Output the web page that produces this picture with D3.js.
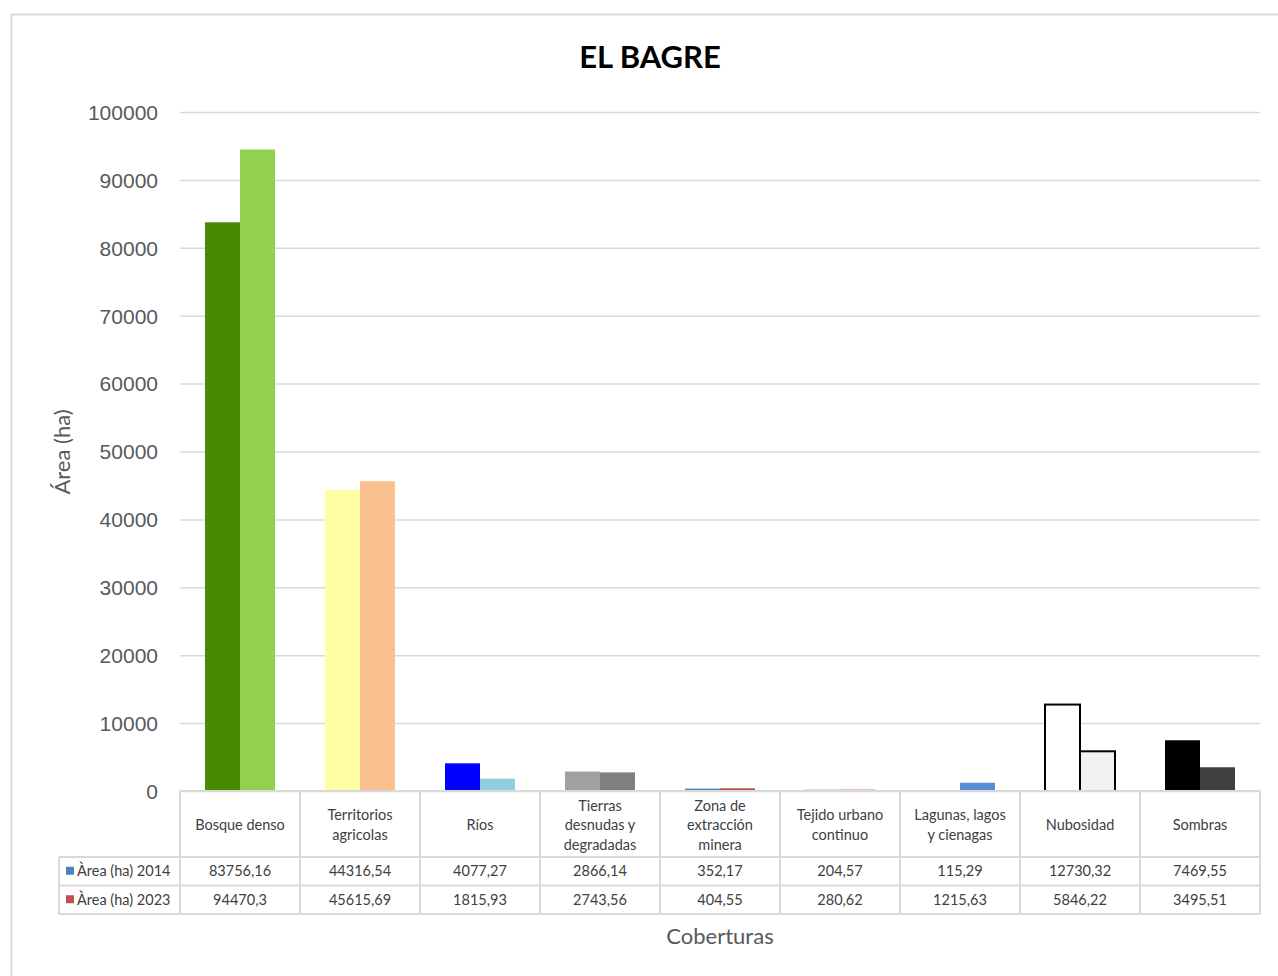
<!DOCTYPE html>
<html>
<head>
<meta charset="utf-8">
<script src="https://cdn.jsdelivr.net/npm/d3@7"></script>
<style>
  body { margin: 0; background: #fff; }
  svg { font-family: Lato, "Open Sans", sans-serif; }
  .y.axis .domain { display: none; }
  .y.axis line { stroke: #d9d9d9; stroke-width: 1.5; }
  .y.axis text { fill: #595959; font-size: 21px; }
</style>
</head>
<body>
<script>
// El Bagre - cover areas 2014 vs 2023

var categories = ["Bosque denso", "Territorios agricolas", "Ríos", "Tierras desnudas y degradadas",
    "Zona de extracción minera", "Tejido urbano continuo", "Lagunas, lagos y cienagas", "Nubosidad", "Sombras"];
var categoryLines = [["Bosque denso"], ["Territorios", "agricolas"], ["Ríos"], ["Tierras", "desnudas y", "degradadas"],
    ["Zona de", "extracción", "minera"], ["Tejido urbano", "continuo"], ["Lagunas, lagos", "y cienagas"], ["Nubosidad"], ["Sombras"]];
var area2014 = [83756.16, 44316.54, 4077.27, 2866.14, 352.17, 204.57, 115.29, 12730.32, 7469.55];
var area2023 = [94470.3, 45615.69, 1815.93, 2743.56, 404.55, 280.62, 1215.63, 5846.22, 3495.51];
var seriesNames = ["Àrea (ha) 2014", "Àrea (ha) 2023"];
var seriesColors = ["#4f81bd", "#c0504d"];
var colors2014 = ["#478c00", "#ffffa3", "#0000ff", "#a0a0a0", "#4f81bd", "#95b3d7", "#4f81bd", "#ffffff", "#000000"];
var colors2023 = ["#92d050", "#fac090", "#92cddc", "#808080", "#c0504d", "#e6b9b8", "#558ed5", "#f2f2f2", "#404040"];
var yTicks = [0, 10000, 20000, 30000, 40000, 50000, 60000, 70000, 80000, 90000, 100000];

var W = 1278, H = 976;
var plotLeft = 180, plotRight = 1260, plotTop = 112, base = 791;
var rowHead = 66, rowH = 28.5, legendLeft = 59;
var barW = 35;

var svg = d3.select("body").append("svg")
    .attr("width", W)
    .attr("height", H);

// chart frame
svg.append("rect")
    .attr("x", 11.5).attr("y", 14.5)
    .attr("width", W + 10).attr("height", H + 10)
    .attr("fill", "none")
    .attr("stroke", "#d9d9d9")
    .attr("stroke-width", 2);

var x = d3.scaleBand().domain(categories).range([plotLeft, plotRight]);
var y = d3.scaleLinear().domain([0, 100000]).range([base, plotTop]);

// y axis + gridlines
var yAxis = d3.axisLeft(y).tickValues(yTicks).tickSize(-(plotRight - plotLeft)).tickPadding(22)
    .tickFormat(d3.format("d"));
svg.append("g")
    .attr("class", "y axis")
    .attr("transform", "translate(" + plotLeft + ",0)")
    .call(yAxis)
    .selectAll("text").attr("dy", "0.35em");

// bars
var rows = categories.map(function(c, i) {
    return {cat: c, v1: area2014[i], v2: area2023[i], c1: colors2014[i], c2: colors2023[i]};
});
var bars = svg.append("g");
function outlined(c) { return c === "#ffffff" || c === "#f2f2f2"; }
bars.selectAll(".b2014")
    .data(rows)
    .enter().append("rect")
    .attr("class", "b2014")
    .attr("x", function(d) { return x(d.cat) + x.bandwidth() / 2 - barW; })
    .attr("y", function(d) { return y(d.v1); })
    .attr("width", barW)
    .attr("height", function(d) { return base - y(d.v1); })
    .attr("fill", function(d) { return d.c1; })
    .attr("stroke", function(d) { return outlined(d.c1) ? "#000" : "none"; })
    .attr("stroke-width", 2);
bars.selectAll(".b2023")
    .data(rows)
    .enter().append("rect")
    .attr("class", "b2023")
    .attr("x", function(d) { return x(d.cat) + x.bandwidth() / 2; })
    .attr("y", function(d) { return y(d.v2); })
    .attr("width", barW)
    .attr("height", function(d) { return base - y(d.v2); })
    .attr("fill", function(d) { return d.c2; })
    .attr("stroke", function(d) { return outlined(d.c2) ? "#000" : "none"; })
    .attr("stroke-width", 2);

// data table
var table = svg.append("g");
var tableBottom = base + rowHead + 2 * rowH;
var lineColor = "#d9d9d9";
function hline(x1, x2, yy) {
    table.append("line").attr("x1", x1).attr("x2", x2).attr("y1", yy).attr("y2", yy)
        .attr("stroke", lineColor).attr("stroke-width", 2);
}
function vline(xx, y1, y2) {
    table.append("line").attr("x1", xx).attr("x2", xx).attr("y1", y1).attr("y2", y2)
        .attr("stroke", lineColor).attr("stroke-width", 2);
}
hline(plotLeft, plotRight, base);
hline(legendLeft, plotRight, base + rowHead);
hline(legendLeft, plotRight, base + rowHead + rowH);
hline(legendLeft, plotRight, tableBottom);
vline(legendLeft, base + rowHead, tableBottom);
categories.forEach(function(c) { vline(x(c), base, tableBottom); });
vline(plotRight, base, tableBottom);

// header labels
categories.forEach(function(c, i) {
    var lines = categoryLines[i];
    var cy = base + rowHead / 2 + 1;
    var lh = 19.5;
    var t = table.append("text")
        .attr("text-anchor", "middle")
        .attr("fill", "#404040")
        .style("font-size", "14.5px");
    lines.forEach(function(l, k) {
        t.append("tspan")
            .attr("x", x(c) + x.bandwidth() / 2)
            .attr("y", cy + (k - (lines.length - 1) / 2) * lh)
            .attr("dy", "0.35em")
            .text(l);
    });
});

// value rows
function fmt(v) { return String(v).replace(".", ","); }
[area2014, area2023].forEach(function(vals, r) {
    var cy = base + rowHead + rowH * r + rowH / 2;
    table.append("rect")
        .attr("x", 66).attr("y", cy - 4.5)
        .attr("width", 8).attr("height", 8)
        .attr("fill", seriesColors[r]);
    table.append("text")
        .attr("x", 77).attr("y", cy).attr("dy", "0.35em")
        .attr("fill", "#404040")
        .style("font-size", "14.5px")
        .text(seriesNames[r]);
    vals.forEach(function(v, i) {
        table.append("text")
            .attr("x", x(categories[i]) + x.bandwidth() / 2)
            .attr("y", cy).attr("dy", "0.35em")
            .attr("text-anchor", "middle")
            .attr("fill", "#404040")
            .style("font-size", "14.5px")
            .text(fmt(v));
    });
});

// titles
svg.append("text")
    .attr("x", 650).attr("y", 68)
    .attr("text-anchor", "middle")
    .style("font-size", "31px")
    .style("font-weight", "bold")
    .attr("fill", "#000")
    .text("EL BAGRE");

svg.append("text")
    .attr("transform", "translate(70," + 452 + ") rotate(-90)")
    .attr("text-anchor", "middle")
    .attr("fill", "#595959")
    .style("font-size", "22px")
    .text("Área (ha)");

svg.append("text")
    .attr("x", (plotLeft + plotRight) / 2).attr("y", 944)
    .attr("text-anchor", "middle")
    .attr("fill", "#595959")
    .style("font-size", "22px")
    .text("Coberturas");
</script>
</body>
</html>
